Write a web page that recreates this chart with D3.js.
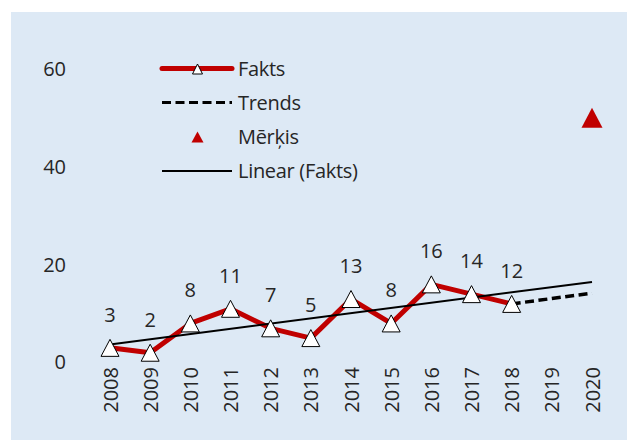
<!DOCTYPE html>
<html>
<head>
<meta charset="utf-8">
<script src="https://cdn.jsdelivr.net/npm/d3@7"></script>
<style>
  body { margin: 0; background: #fff; }
  text { font-family: "Open Sans", "Noto Sans", sans-serif; fill: #262626; }
</style>
</head>
<body>
<div id="chart"></div>
<script>
// data
var years = ["2008","2009","2010","2011","2012","2013","2014","2015","2016","2017","2018","2019","2020"];
var faktsYears = ["2008","2009","2010","2011","2012","2013","2014","2015","2016","2017","2018"];
var fakts = [3, 2, 8, 11, 7, 5, 13, 8, 16, 14, 12];
var trendYears = ["2018", "2020"];
var trends = [12, 14.2];
var linearYears = ["2008", "2020"];
var linearFakts = [3.7, 16.5];
var merkisYears = ["2020"];
var merkis = [50];
var yTicks = [0, 20, 40, 60];
var legendLabels = ["Fakts", "Trends", "Mērķis", "Linear (Fakts)"];

var W = 627, H = 441;
var red = "#c00000";
var fontSize = "20px";

// triangle path centred on its middle, w wide and h tall
function tri(w, h) {
  return "M0," + (-h / 2) + "L" + (w / 2) + "," + (h / 2) + "L" + (-w / 2) + "," + (h / 2) + "Z";
}

var svg = d3.select("#chart").append("svg")
    .attr("width", W)
    .attr("height", H);

// panel background
svg.append("rect")
    .attr("x", 11).attr("y", 12)
    .attr("width", W - 11).attr("height", 428)
    .attr("fill", "#dde9f5");

var x = d3.scalePoint()
    .domain(years)
    .range([110, 592]);

var y = d3.scaleLinear()
    .domain([0, 60])
    .range([362.5, 69.5]);

// y axis labels (no line, no ticks)
var yAxis = svg.append("g")
    .attr("transform", "translate(66,0)")
    .call(d3.axisLeft(y).tickValues(yTicks).tickSize(0).tickPadding(0));
yAxis.select(".domain").remove();
yAxis.selectAll("text")
    .style("font-size", fontSize)
    .style("font-family", "'Open Sans', sans-serif")
    .attr("fill", "#262626");

// x axis labels, rotated
var xAxis = svg.append("g")
    .attr("transform", "translate(0,367)")
    .call(d3.axisBottom(x).tickSize(0).tickPadding(0));
xAxis.select(".domain").remove();
xAxis.selectAll("text")
    .style("font-size", fontSize)
    .style("font-family", "'Open Sans', sans-serif")
    .attr("fill", "#262626")
    .attr("text-anchor", "end")
    .attr("transform", "rotate(-90)")
    .attr("x", 0)
    .attr("y", 0)
    .attr("dy", "0.35em");

var line = d3.line()
    .x(function(d) { return x(d[0]); })
    .y(function(d) { return y(d[1]); });

// Fakts line
svg.append("path")
    .datum(d3.zip(faktsYears, fakts))
    .attr("fill", "none")
    .attr("stroke", red)
    .attr("stroke-width", 5)
    .attr("stroke-linejoin", "round")
    .attr("d", line);

// Trends dashed
svg.append("path")
    .datum(d3.zip(trendYears, trends))
    .attr("fill", "none")
    .attr("stroke", "#000")
    .attr("stroke-width", 3.5)
    .attr("stroke-dasharray", "9,4.5")
    .attr("d", line);

// Linear (Fakts)
svg.append("path")
    .datum(d3.zip(linearYears, linearFakts))
    .attr("fill", "none")
    .attr("stroke", "#000")
    .attr("stroke-width", 2)
    .attr("d", line);

// Fakts markers
svg.append("g").selectAll("path")
    .data(d3.zip(faktsYears, fakts))
    .join("path")
    .attr("transform", function(d) { return "translate(" + x(d[0]) + "," + y(d[1]) + ")"; })
    .attr("d", tri(18, 17))
    .attr("fill", "#fff")
    .attr("stroke", "#000")
    .attr("stroke-width", 1);

// data labels
svg.append("g").selectAll("text")
    .data(d3.zip(faktsYears, fakts))
    .join("text")
    .attr("x", function(d) { return x(d[0]); })
    .attr("y", function(d) { return y(d[1]) - 33; })
    .attr("dy", "0.35em")
    .attr("text-anchor", "middle")
    .style("font-size", fontSize)
    .text(function(d) { return d[1]; });

// Mērķis marker
svg.append("g").selectAll("path")
    .data(d3.zip(merkisYears, merkis))
    .join("path")
    .attr("transform", function(d) { return "translate(" + x(d[0]) + "," + (y(d[1]) - 0.5) + ")"; })
    .attr("d", tri(21, 20))
    .attr("fill", red);

// legend
var lg = svg.append("g").attr("transform", "translate(162,0)");
var rows = [68.5, 102.5, 137, 171];

lg.append("line")
    .attr("x1", 0).attr("x2", 70).attr("y1", rows[0]).attr("y2", rows[0])
    .attr("stroke", red).attr("stroke-width", 5).attr("stroke-linecap", "round");
lg.append("path")
    .attr("transform", "translate(35.5," + (rows[0] + 0.5) + ")")
    .attr("d", tri(10, 10))
    .attr("fill", "#fff").attr("stroke", "#000").attr("stroke-width", 1);

lg.append("line")
    .attr("x1", 0).attr("x2", 70).attr("y1", rows[1]).attr("y2", rows[1])
    .attr("stroke", "#000").attr("stroke-width", 3).attr("stroke-dasharray", "9,4.5");

lg.append("path")
    .attr("transform", "translate(35.5," + rows[2] + ")")
    .attr("d", tri(12, 11))
    .attr("fill", red);

lg.append("line")
    .attr("x1", 0).attr("x2", 70).attr("y1", rows[3]).attr("y2", rows[3])
    .attr("stroke", "#000").attr("stroke-width", 2);

lg.selectAll("text.lab")
    .data(legendLabels)
    .join("text")
    .attr("class", "lab")
    .attr("x", 76)
    .attr("y", function(d, i) { return rows[i]; })
    .attr("dy", "0.35em")
    .style("font-size", fontSize)
    .style("letter-spacing", "-0.3px")
    .text(function(d) { return d; });
</script>
</body>
</html>
